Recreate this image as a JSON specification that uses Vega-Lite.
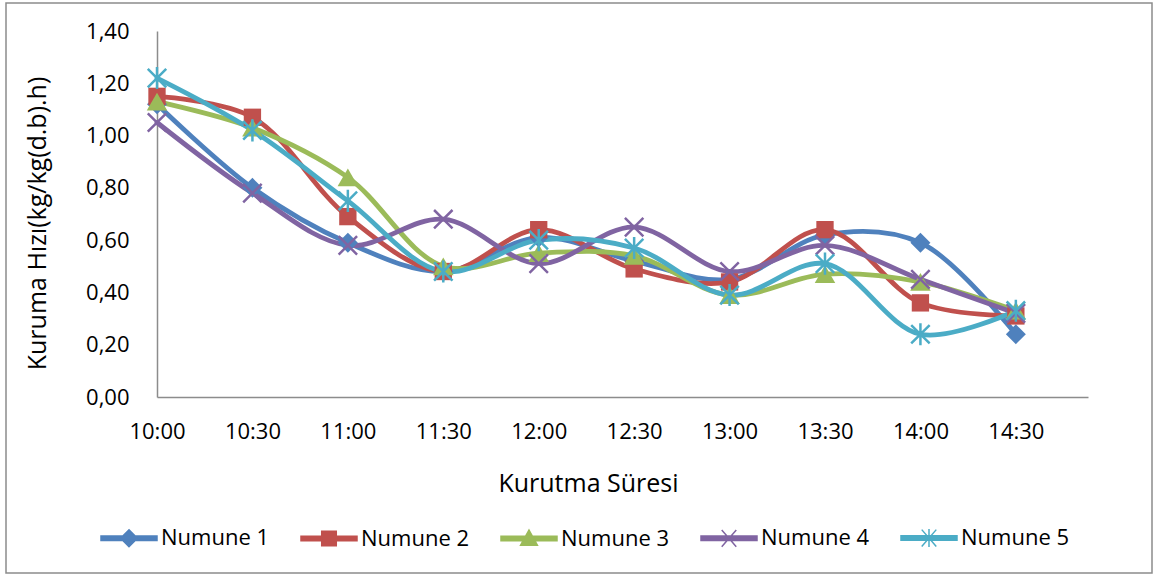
{
  "$schema": "https://vega.github.io/schema/vega-lite/v6.json",
  "width": 1146,
  "height": 570,
  "autosize": {"type": "none"},
  "padding": {"left": 6, "top": 3, "right": 6, "bottom": 3},
  "background": "white",
  "config": {
    "font": "Open Sans",
    "view": {"stroke": "#8c8c8c", "strokeWidth": 1.5},
    "axis": {
      "grid": false,
      "ticks": false,
      "domainColor": "#8c8c8c",
      "domainWidth": 1.5,
      "labelColor": "#000000",
      "labelFontSize": 22,
      "titleColor": "#000000",
      "titleFontSize": 25,
      "titleFontWeight": "normal"
    }
  },
  "data": {
    "values": [
      {"saat": "10:00", "seri": "Numune 1", "hiz": 1.12},
      {"saat": "10:30", "seri": "Numune 1", "hiz": 0.80},
      {"saat": "11:00", "seri": "Numune 1", "hiz": 0.59},
      {"saat": "11:30", "seri": "Numune 1", "hiz": 0.48},
      {"saat": "12:00", "seri": "Numune 1", "hiz": 0.61},
      {"saat": "12:30", "seri": "Numune 1", "hiz": 0.52},
      {"saat": "13:00", "seri": "Numune 1", "hiz": 0.45},
      {"saat": "13:30", "seri": "Numune 1", "hiz": 0.62},
      {"saat": "14:00", "seri": "Numune 1", "hiz": 0.59},
      {"saat": "14:30", "seri": "Numune 1", "hiz": 0.24},
      {"saat": "10:00", "seri": "Numune 2", "hiz": 1.15},
      {"saat": "10:30", "seri": "Numune 2", "hiz": 1.07},
      {"saat": "11:00", "seri": "Numune 2", "hiz": 0.69},
      {"saat": "11:30", "seri": "Numune 2", "hiz": 0.48},
      {"saat": "12:00", "seri": "Numune 2", "hiz": 0.64},
      {"saat": "12:30", "seri": "Numune 2", "hiz": 0.49},
      {"saat": "13:00", "seri": "Numune 2", "hiz": 0.44},
      {"saat": "13:30", "seri": "Numune 2", "hiz": 0.64},
      {"saat": "14:00", "seri": "Numune 2", "hiz": 0.36},
      {"saat": "14:30", "seri": "Numune 2", "hiz": 0.31},
      {"saat": "10:00", "seri": "Numune 3", "hiz": 1.13},
      {"saat": "10:30", "seri": "Numune 3", "hiz": 1.03},
      {"saat": "11:00", "seri": "Numune 3", "hiz": 0.84},
      {"saat": "11:30", "seri": "Numune 3", "hiz": 0.50},
      {"saat": "12:00", "seri": "Numune 3", "hiz": 0.55},
      {"saat": "12:30", "seri": "Numune 3", "hiz": 0.54},
      {"saat": "13:00", "seri": "Numune 3", "hiz": 0.39},
      {"saat": "13:30", "seri": "Numune 3", "hiz": 0.47},
      {"saat": "14:00", "seri": "Numune 3", "hiz": 0.44},
      {"saat": "14:30", "seri": "Numune 3", "hiz": 0.33},
      {"saat": "10:00", "seri": "Numune 4", "hiz": 1.05},
      {"saat": "10:30", "seri": "Numune 4", "hiz": 0.78},
      {"saat": "11:00", "seri": "Numune 4", "hiz": 0.58},
      {"saat": "11:30", "seri": "Numune 4", "hiz": 0.68},
      {"saat": "12:00", "seri": "Numune 4", "hiz": 0.51},
      {"saat": "12:30", "seri": "Numune 4", "hiz": 0.65},
      {"saat": "13:00", "seri": "Numune 4", "hiz": 0.48},
      {"saat": "13:30", "seri": "Numune 4", "hiz": 0.58},
      {"saat": "14:00", "seri": "Numune 4", "hiz": 0.45},
      {"saat": "14:30", "seri": "Numune 4", "hiz": 0.32},
      {"saat": "10:00", "seri": "Numune 5", "hiz": 1.22},
      {"saat": "10:30", "seri": "Numune 5", "hiz": 1.02},
      {"saat": "11:00", "seri": "Numune 5", "hiz": 0.75},
      {"saat": "11:30", "seri": "Numune 5", "hiz": 0.48},
      {"saat": "12:00", "seri": "Numune 5", "hiz": 0.60},
      {"saat": "12:30", "seri": "Numune 5", "hiz": 0.57},
      {"saat": "13:00", "seri": "Numune 5", "hiz": 0.39},
      {"saat": "13:30", "seri": "Numune 5", "hiz": 0.51},
      {"saat": "14:00", "seri": "Numune 5", "hiz": 0.24},
      {"saat": "14:30", "seri": "Numune 5", "hiz": 0.33}
    ]
  },
  "encoding": {
    "x": {
      "field": "saat",
      "type": "ordinal",
      "scale": {
        "type": "point",
        "domain": ["10:00", "10:30", "11:00", "11:30", "12:00", "12:30", "13:00", "13:30", "14:00", "14:30"],
        "range": [151, 1082],
        "padding": 0.378,
        "align": 0
      },
      "axis": {
        "orient": "bottom",
        "offset": -176,
        "labelAngle": 0,
        "labelFlush": false,
        "labelOverlap": false,
        "labelPadding": 24,
        "title": "Kurutma Süresi",
        "titleX": 582,
        "titleY": 86,
        "titleBaseline": "middle"
      }
    },
    "y": {
      "field": "hiz",
      "type": "quantitative",
      "scale": {"domain": [0, 1.4], "range": [394, 28], "nice": false},
      "axis": {
        "orient": "left",
        "offset": -151,
        "values": [0, 0.2, 0.4, 0.6, 0.8, 1.0, 1.2, 1.4],
        "labelExpr": "replace(format(datum.value, '.2f'), '.', ',')",
        "labelPadding": 28,
        "title": "Kuruma Hızı(kg/kg(d.b).h)",
        "titleX": -120,
        "titleY": 220,
        "titleAngle": -90,
        "titleAlign": "center",
        "titleBaseline": "middle"
      }
    },
    "color": {
      "field": "seri",
      "type": "nominal",
      "scale": {
        "domain": ["Numune 1", "Numune 2", "Numune 3", "Numune 4", "Numune 5"],
        "range": ["#4F81BD", "#C0504D", "#9BBB59", "#8064A2", "#4BACC6"]
      },
      "legend": {
        "orient": "none",
        "legendX": 94,
        "legendY": 506,
        "direction": "horizontal",
        "columns": 5,
        "title": null,
        "padding": 0,
        "gridAlign": "all",
        "columnPadding": 28,
        "symbolSize": 3136,
        "symbolOpacity": 1,
        "symbolStrokeWidth": 1.5,
        "labelFontSize": 22,
        "labelColor": "#000000",
        "labelOffset": 3,
        "labelLimit": 200
      }
    }
  },
  "layer": [
    {
      "mark": {"type": "line", "interpolate": "catmull-rom", "strokeWidth": 4.8, "strokeCap": "round"}
    },
    {
      "mark": {"type": "point", "filled": true, "opacity": 0, "size": 3136},
      "encoding": {
        "shape": {
          "field": "seri",
          "type": "nominal",
          "scale": {
            "domain": ["Numune 1", "Numune 2", "Numune 3", "Numune 4", "Numune 5"],
            "range": [
              "M-1,-0.08H1V0.08H-1ZM0,-0.3L0.3,0L0,0.3L-0.3,0Z",
              "M-1,-0.08H1V0.08H-1ZM-0.26,-0.26H0.26V0.26H-0.26Z",
              "M-1,-0.08H1V0.08H-1ZM0,-0.3L0.3,0.24H-0.3Z",
              "M-1,-0.08H1V0.08H-1ZM-0.26,-0.3L0.26,0.3M-0.26,0.3L0.26,-0.3",
              "M-1,-0.08H1V0.08H-1ZM-0.26,-0.3L0.26,0.3M-0.26,0.3L0.26,-0.3M0,-0.32V0.32"
            ]
          },
          "legend": {
            "orient": "none",
            "legendX": 94,
            "legendY": 506,
            "direction": "horizontal",
            "columns": 5,
            "title": null,
            "padding": 0,
            "gridAlign": "all",
            "columnPadding": 28,
            "symbolSize": 3136,
            "symbolOpacity": 1,
            "symbolStrokeWidth": 1.5,
            "labelFontSize": 22,
            "labelColor": "#000000",
            "labelOffset": 3,
            "labelLimit": 200
          }
        }
      }
    },
    {
      "transform": [{"filter": {"field": "seri", "equal": "Numune 1"}}],
      "mark": {"type": "point", "shape": "diamond", "filled": true, "opacity": 1, "size": 400}
    },
    {
      "transform": [{"filter": {"field": "seri", "equal": "Numune 2"}}],
      "mark": {"type": "point", "shape": "square", "filled": true, "opacity": 1, "size": 300}
    },
    {
      "transform": [{"filter": {"field": "seri", "equal": "Numune 3"}}],
      "mark": {"type": "point", "shape": "triangle-up", "filled": true, "opacity": 1, "size": 420}
    },
    {
      "transform": [{"filter": {"field": "seri", "equal": "Numune 4"}}],
      "mark": {"type": "point", "shape": "M-1,-1L1,1M-1,1L1,-1", "filled": false, "opacity": 1, "size": 340, "strokeWidth": 2.5}
    },
    {
      "transform": [{"filter": {"field": "seri", "equal": "Numune 5"}}],
      "mark": {"type": "point", "shape": "M-1,-1L1,1M-1,1L1,-1M0,-1.2L0,1.2", "filled": false, "opacity": 1, "size": 340, "strokeWidth": 2.5}
    }
  ]
}
